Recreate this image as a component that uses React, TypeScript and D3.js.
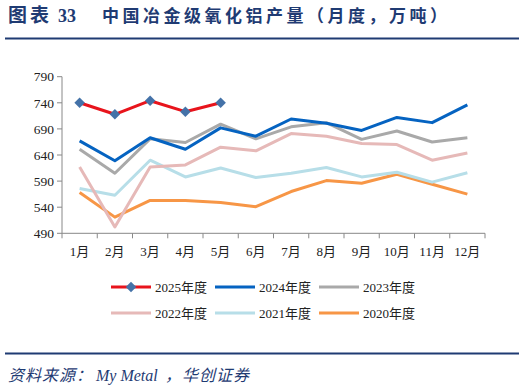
import React from 'react';
import * as d3 from 'd3';

const months = ['1月', '2月', '3月', '4月', '5月', '6月', '7月', '8月', '9月', '10月', '11月', '12月'];
const yTicks = [490, 540, 590, 640, 690, 740, 790];

const y2025 = [740, 718, 744, 723, 740];
const y2024 = [667, 629, 673, 651, 692, 676, 709, 701, 687, 712, 702, 736];
const y2023 = [651, 605, 671, 664, 699, 671, 694, 702, 670, 686, 665, 673];
const y2022 = [617, 502, 617, 621, 655, 648, 681, 676, 662, 660, 630, 644];
const y2021 = [576, 563, 630, 598, 615, 597, 605, 616, 598, 607, 588, 606];
const y2020 = [568, 521, 553, 553, 549, 541, 570, 591, 586, 603, 584, 565];

const series = [
  { name: '2025年度', values: y2025, color: '#E8141C', marker: true },
  { name: '2024年度', values: y2024, color: '#0563C1', marker: false },
  { name: '2023年度', values: y2023, color: '#A9A9A9', marker: false },
  { name: '2022年度', values: y2022, color: '#E6B9B8', marker: false },
  { name: '2021年度', values: y2021, color: '#B7DEE8', marker: false },
  { name: '2020年度', values: y2020, color: '#F79646', marker: false },
];

const serif = '"Liberation Serif", "Noto Sans CJK SC", serif';
const navy = '#1F3B73';

export default function App() {
  const x = d3.scaleBand().domain(months).range([62, 485]);
  const y = d3.scaleLinear().domain([490, 790]).range([233.3, 76.7]);
  const cx = (i: number) => (x(months[i]) as number) + x.bandwidth() / 2;
  const line = d3.line<number>().x((_, i) => cx(i)).y(d => y(d));
  const drawOrder = [...series].reverse();
  const diamond = d3.symbol().type(d3.symbolDiamond2).size(70)();

  return (
    <svg width={524} height={389} style={{ position: 'absolute', left: 0, top: 0 }}>
      <rect width={524} height={389} fill="#fff" />
      <text x={8} y={22} fill={navy} fontFamily={serif} fontWeight="bold" fontSize={19} letterSpacing={3}>
        图表
      </text>
      <text x={58} y={22} fill={navy} fontFamily={serif} fontWeight="bold" fontSize={18}>
        33
      </text>
      <text x={102} y={22} fill={navy} fontFamily={serif} fontWeight="bold" fontSize={17}
        textLength={345} lengthAdjust="spacing">
        中国冶金级氧化铝产量（月度，万吨）
      </text>
      <line x1={5} x2={519} y1={38.5} y2={38.5} stroke={navy} strokeWidth={2} />

      {/* axes */}
      <line x1={62} x2={62} y1={y(790)} y2={y(490)} stroke="#888" strokeWidth={1} />
      <line x1={62} x2={485} y1={y(490)} y2={y(490)} stroke="#888" strokeWidth={1} />
      {yTicks.map(t => (
        <g key={t}>
          <line x1={57} x2={62} y1={y(t)} y2={y(t)} stroke="#888" />
          <text x={54} y={y(t)} dy="0.35em" textAnchor="end" fontFamily={serif} fontSize={13.5} fill="#222">
            {t}
          </text>
        </g>
      ))}
      {[...months.map(m => x(m) as number), 485].map((p, i) => (
        <line key={i} x1={p} x2={p} y1={y(490)} y2={y(490) + 5} stroke="#888" />
      ))}
      {months.map((m, i) => (
        <text key={m} x={cx(i)} y={256} textAnchor="middle" fontFamily={serif} fontSize={13} fill="#222">
          {m}
        </text>
      ))}

      {drawOrder.map(s => (
        <g key={s.name}>
          <path d={line(s.values) || ''} fill="none" stroke={s.color} strokeWidth={3} strokeLinejoin="round" />
          {s.marker && s.values.map((v, i) => (
            <path key={i} d={diamond || ''} transform={`translate(${cx(i)},${y(v)})`} fill="#4472A8" />
          ))}
        </g>
      ))}

      {/* legend */}
      {series.map((s, i) => {
        const lx = 111 + (i % 3) * 104;
        const ly = i < 3 ? 287 : 313;
        return (
          <g key={s.name}>
            <line x1={lx} x2={lx + 40} y1={ly} y2={ly} stroke={s.color} strokeWidth={3} />
            {s.marker && <path d={diamond || ''} transform={`translate(${lx + 20},${ly})`} fill="#4472A8" />}
            <text x={lx + 44} y={ly} dy="0.35em" fontFamily={serif} fontSize={13} fill="#222">
              {s.name}
            </text>
          </g>
        );
      })}

      <line x1={5} x2={519} y1={353.5} y2={353.5} stroke={navy} strokeWidth={2} />
      <text x={8} y={381} fill={navy} fontFamily={serif} fontStyle="italic" fontSize={16} letterSpacing={1}>
        资料来源：
      </text>
      <text x={96} y={381} fill={navy} fontFamily={serif} fontStyle="italic" fontSize={16}>
        My Metal
      </text>
      <text x={165} y={381} fill={navy} fontFamily={serif} fontStyle="italic" fontSize={16} letterSpacing={1}>
        ，华创证券
      </text>
    </svg>
  );
}
